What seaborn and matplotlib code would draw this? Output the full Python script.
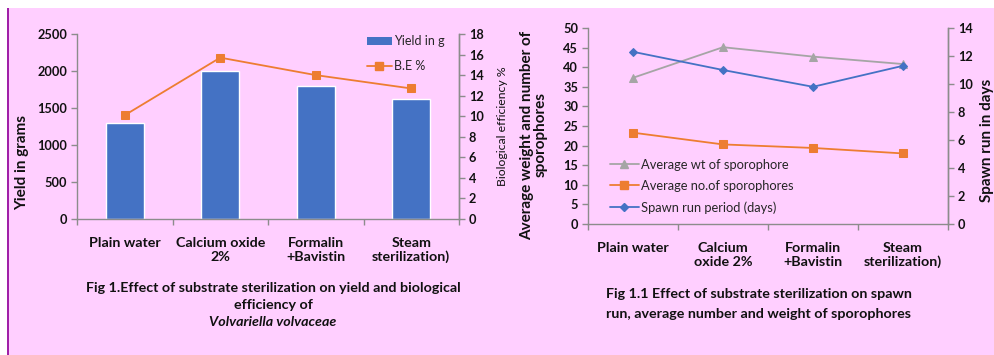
import numpy as np
import pandas as pd
import matplotlib
matplotlib.use("Agg")
import matplotlib.pyplot as plt
from matplotlib.patches import Rectangle
from matplotlib.lines import Line2D
from matplotlib.ticker import FixedLocator, MultipleLocator
import seaborn as sns

# ---------------- data ----------------
categories = ["Plain water", "Calcium oxide 2%", "Formalin +Bavistin", "Steam sterilization)"]
labels_fig1 = ["Plain water", "Calcium oxide\n2%", "Formalin\n+Bavistin", "Steam\nsterilization)"]
labels_fig2 = ["Plain water", "Calcium\noxide 2%", "Formalin\n+Bavistin", "Steam\nsterilization)"]

yield_g = [1300, 2000, 1800, 1625]
be_pct = [10.1, 15.7, 14.0, 12.7]

avg_wt = [37.3, 45.1, 42.7, 40.8]
avg_no = [23.3, 20.3, 19.4, 18.0]
spawn_days = [12.3, 11.0, 9.8, 11.3]

# ---------------- style ----------------
sns.set_theme(style="white")
plt.rcParams["font.family"] = ["Lato", "DejaVu Sans"]

PINK = "#FFCFFF"
BLUE = "#4472C4"
ORANGE = "#ED7D31"
GREY = "#A5A5A5"
SPINE = "#8C8C8C"
TXT = "#111111"

W, H = 995, 355
fig = plt.figure(figsize=(W / 100, H / 100), dpi=100, facecolor=PINK)

# white margins and purple border line
fig.patches.append(Rectangle((0, (H - 8) / H), 1, 8 / H, transform=fig.transFigure,
                             facecolor="white", edgecolor="none", zorder=-5))
fig.patches.append(Rectangle((0, 0), 7 / W, 1, transform=fig.transFigure,
                             facecolor="white", edgecolor="none", zorder=-5))
fig.patches.append(Rectangle((7 / W, 0), 2 / W, (H - 8) / H, transform=fig.transFigure,
                             facecolor="#A020A8", edgecolor="none", zorder=-4))


def px_axes(x0, y0, x1, y1):
    return fig.add_axes([x0 / W, (H - y1) / H, (x1 - x0) / W, (y1 - y0) / H])


def style_axes(ax, twin, xlabels, pad):
    for a in (ax, twin):
        a.set_facecolor("none")
        a.spines["top"].set_visible(False)
        for s in ("left", "right", "bottom"):
            a.spines[s].set_color(SPINE)
            a.spines[s].set_linewidth(1.0)
    twin.spines["left"].set_visible(False)
    twin.spines["bottom"].set_visible(False)
    ax.set_xlim(-0.5, len(categories) - 0.5)
    ax.set_xticks(range(len(categories)))
    ax.set_xticklabels(xlabels, fontsize=10.3, fontweight="bold", color=TXT)
    for lab in ax.get_xticklabels():
        lab.set_linespacing(1.15)
    ax.xaxis.set_minor_locator(FixedLocator(np.arange(-0.5, len(categories), 1.0)))
    ax.tick_params(axis="x", which="major", length=0, pad=pad)
    ax.tick_params(axis="x", which="minor", length=4, width=1, color=SPINE, direction="out", bottom=True)
    ax.tick_params(axis="y", length=4, width=1, color=SPINE, direction="out", left=True,
                   labelsize=9.2, pad=3, labelcolor=TXT)
    twin.tick_params(axis="y", length=4, width=1, color=SPINE, direction="out", right=True,
                     labelsize=9.2, pad=3, labelcolor=TXT)
    for lab in ax.get_yticklabels() + twin.get_yticklabels():
        lab.set_fontweight("bold")


# ================= Figure 1 (left) =================
ax1 = px_axes(77, 34, 459, 219)
df1 = pd.DataFrame({"cat": categories, "yield": yield_g, "be": be_pct})
sns.barplot(data=df1, x="cat", y="yield", color=BLUE, saturation=1, width=0.4, ax=ax1, zorder=2)
ax1.set_ylim(0, 2500)
ax1.yaxis.set_major_locator(MultipleLocator(500))
ax1.set_xlabel("")

ax1b = ax1.twinx()
sns.lineplot(x=np.arange(len(categories)), y=be_pct, ax=ax1b, color=ORANGE, lw=1.3,
             marker="s", markersize=5.5, markeredgecolor=ORANGE)
ax1b.set_ylim(0, 18)
ax1b.yaxis.set_major_locator(MultipleLocator(2))
style_axes(ax1, ax1b, labels_fig1, pad=13)

ax1.set_ylabel("Yield in grams", fontsize=11, fontweight="bold", color=TXT)
ax1.yaxis.set_label_coords((22 - 77) / 382, (219 - 162) / 185)
ax1.yaxis.label.set_va("center")
ax1b.set_ylabel("Biological efficiency %", fontsize=8.8, color=TXT, rotation=90)
ax1b.yaxis.set_label_coords((503 - 77) / 382, 0.5)
ax1b.yaxis.label.set_va("center")

h_bar = Rectangle((0, 0), 1, 1, facecolor=BLUE, edgecolor="none")
h_be = Line2D([], [], color=ORANGE, lw=1.3, marker="s", markersize=5.5)
ax1b.legend([h_bar, h_be], ["Yield in g", "B.E %"], loc="upper left",
            bbox_to_anchor=((362 - 77) / 382, 1.02), frameon=False, fontsize=9,
            handlelength=2.0, handletextpad=0.2, labelspacing=1.05, borderaxespad=0)

cap1 = ["Fig 1.Effect of substrate sterilization on yield and biological", "efficiency of"]
for txt, yy in zip(cap1, (288, 305)):
    fig.text(273 / W, 1 - yy / H, txt, ha="center", va="center", fontsize=10.3,
             fontweight="bold", color=TXT)
fig.text(273 / W, 1 - 322 / H, "Volvariella volvaceae", ha="center", va="center",
         fontsize=10.3, fontweight="bold", style="italic", color=TXT)

# ================= Figure 1.1 (right) =================
ax2 = px_axes(588, 28, 948, 224)
x = np.arange(len(categories))
sns.lineplot(x=x, y=avg_wt, ax=ax2, color=GREY, lw=1.3, marker="^", markersize=6,
             markeredgecolor=GREY, label="Average wt of sporophore", legend=False)
sns.lineplot(x=x, y=avg_no, ax=ax2, color=ORANGE, lw=1.3, marker="s", markersize=5.5,
             markeredgecolor=ORANGE, label="Average no.of sporophores", legend=False)
ax2.set_ylim(0, 50)
ax2.yaxis.set_major_locator(MultipleLocator(5))

ax2b = ax2.twinx()
sns.lineplot(x=x, y=spawn_days, ax=ax2b, color=BLUE, lw=1.3, marker="D", markersize=4.5,
             markeredgecolor=BLUE, label="Spawn run period (days)", legend=False)
ax2b.set_ylim(0, 14)
ax2b.yaxis.set_major_locator(MultipleLocator(2))
style_axes(ax2, ax2b, labels_fig2, pad=13)

ax2.set_ylabel("Average weight and number of\nsporophores", fontsize=11,
               fontweight="bold", color=TXT, linespacing=1.0)
ax2.yaxis.set_label_coords((534 - 588) / 360, (224 - 135) / 196)
ax2.yaxis.label.set_va("center")
ax2b.set_ylabel("Spawn run in days", fontsize=11, fontweight="bold", color=TXT, rotation=90)
ax2b.yaxis.set_label_coords((987 - 588) / 360, (224 - 140) / 196)
ax2b.yaxis.label.set_va("center")

hs = [Line2D([], [], color=GREY, lw=1.3, marker="^", markersize=6),
      Line2D([], [], color=ORANGE, lw=1.3, marker="s", markersize=5.5),
      Line2D([], [], color=BLUE, lw=1.3, marker="D", markersize=4.5)]
ax2b.legend(hs, ["Average wt of sporophore", "Average no.of sporophores", "Spawn run period (days)"],
            loc="lower left", bbox_to_anchor=((605 - 588) / 360, (224 - 219) / 196),
            frameon=False, fontsize=9.3, handlelength=2.2, handletextpad=0.15,
            labelspacing=0.72, borderaxespad=0)

cap2 = ["Fig 1.1 Effect of substrate sterilization on spawn",
        "run, average number and weight of sporophores"]
for txt, yy in zip(cap2, (294, 314)):
    fig.text(759 / W, 1 - yy / H, txt, ha="center", va="center", fontsize=10.3,
             fontweight="bold", color=TXT)

fig.savefig("out.png", dpi=100, facecolor=PINK)
